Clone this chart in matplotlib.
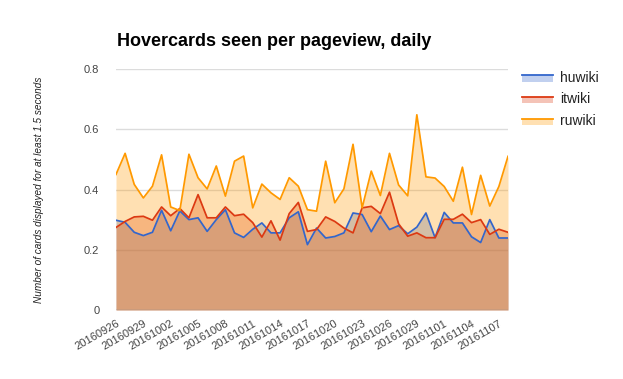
import matplotlib
matplotlib.use("Agg")
import matplotlib.pyplot as plt
import numpy as np
import pandas as pd
from matplotlib.legend_handler import HandlerBase
from matplotlib.patches import Rectangle
from matplotlib.lines import Line2D

plt.rcParams['font.family'] = ['Liberation Sans', 'DejaVu Sans']

dates = [d.strftime('%Y%m%d') for d in pd.date_range('2016-09-26', '2016-11-08', freq='D')]

huwiki = [0.298, 0.291, 0.258, 0.247, 0.258, 0.331, 0.263, 0.329, 0.300, 0.306,
          0.261, 0.300, 0.333, 0.256, 0.241, 0.268, 0.289, 0.256, 0.256, 0.306,
          0.326, 0.217, 0.272, 0.239, 0.244, 0.256, 0.322, 0.317, 0.260, 0.312,
          0.267, 0.280, 0.253, 0.275, 0.322, 0.240, 0.324, 0.289, 0.289, 0.243,
          0.224, 0.300, 0.239, 0.239]
itwiki = [0.274, 0.294, 0.309, 0.311, 0.298, 0.342, 0.313, 0.337, 0.306, 0.383,
          0.306, 0.306, 0.342, 0.313, 0.318, 0.290, 0.242, 0.296, 0.232, 0.320,
          0.357, 0.261, 0.267, 0.309, 0.294, 0.272, 0.256, 0.339, 0.344, 0.320,
          0.391, 0.286, 0.245, 0.256, 0.240, 0.240, 0.301, 0.301, 0.318, 0.290,
          0.300, 0.251, 0.268, 0.258]
ruwiki = [0.450, 0.520, 0.417, 0.372, 0.411, 0.515, 0.342, 0.330, 0.517, 0.439,
          0.402, 0.478, 0.378, 0.494, 0.511, 0.339, 0.418, 0.389, 0.367, 0.439,
          0.411, 0.333, 0.328, 0.494, 0.356, 0.402, 0.550, 0.339, 0.461, 0.380,
          0.520, 0.415, 0.379, 0.648, 0.442, 0.438, 0.410, 0.361, 0.474, 0.317,
          0.447, 0.345, 0.410, 0.510]

series = [('huwiki', huwiki, '#3366cc'),
          ('itwiki', itwiki, '#dc3912'),
          ('ruwiki', ruwiki, '#ff9900')]

fig = plt.figure(figsize=(6.23, 3.79), dpi=100)
ax = fig.add_axes([116/623, 1-310/379, 392/623, 241/379])

x = np.arange(len(dates))
for name, vals, col in series:
    ax.fill_between(x, 0, vals, color=col, alpha=0.3, linewidth=0, zorder=2)
for name, vals, col in series:
    ax.plot(x, vals, color=col, linewidth=1.25, zorder=3)

ax.set_xlim(0, len(dates) - 1)
ax.set_ylim(0, 0.8)
ax.set_yticks([0, 0.2, 0.4, 0.6, 0.8])
ax.set_yticklabels(['0', '0.2', '0.4', '0.6', '0.8'])
ax.set_xticks(x[::3])
ax.set_xticklabels(dates[::3], rotation=30, ha='right', rotation_mode='anchor')
ax.tick_params(axis='both', length=0, colors='#444444', labelsize=8)
ax.tick_params(axis='y', pad=12)
ax.tick_params(axis='x', pad=6)
for s in ax.spines.values():
    s.set_visible(False)
ax.grid(axis='y', color='#dcdcdc', linewidth=1, zorder=1)
ax.axhline(0, color='#999999', linewidth=1, zorder=4)
ax.set_axisbelow(True)

ax.set_ylabel('Number of cards displayed for at least 1.5 seconds', fontsize=7.2,
              style='italic', color='#222222', labelpad=29)

fig.text(117/623, 1-42/379, 'Hovercards seen per pageview, daily', fontsize=13,
         fontweight='bold', ha='left', va='center', color='#000000')


class FillLineHandler(HandlerBase):
    def create_artists(self, legend, orig_handle, xdescent, ydescent, width, height,
                       fontsize, trans):
        col = orig_handle.get_color()
        top = -ydescent + height * 0.62
        r = Rectangle((-xdescent, -ydescent), width, height * 0.62, facecolor=col,
                      alpha=0.3, edgecolor='none', transform=trans)
        l = Line2D([-xdescent, -xdescent + width], [top, top], color=col,
                   linewidth=1.3, transform=trans)
        return [r, l]


handles = [Line2D([], [], color=c) for _, _, c in series]
labels = [n for n, _, _ in series]
fig.legend(handles, labels, loc='upper left', bbox_to_anchor=(509/623, 1-58/379),
           frameon=False, fontsize=10, handlelength=2.3, handletextpad=0.5,
           labelspacing=0.55, handler_map={Line2D: FillLineHandler()},
           labelcolor='#222222')

fig.savefig('out.png', dpi=100)
